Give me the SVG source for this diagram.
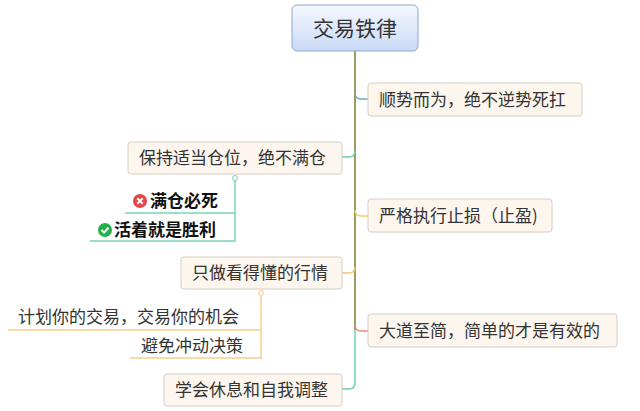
<svg xmlns="http://www.w3.org/2000/svg" width="640" height="411" viewBox="0 0 640 411">
<defs>
<linearGradient id="rg" x1="0" y1="0" x2="0" y2="1"><stop offset="0" stop-color="#f4f8ff"/><stop offset="1" stop-color="#c9daf6"/></linearGradient>
<style>
.n{fill:#fcf6ef;stroke:#d4cec6;stroke-width:1}
.t{font-family:"Noto Sans CJK SC",sans-serif;font-size:17px;fill:#333}
.s{font-family:"Noto Sans CJK SC",sans-serif;font-size:17px;font-weight:bold;fill:#111}
.c{fill:none;stroke-width:1.5}
</style>
</defs>
<rect width="640" height="411" fill="#fff"/>
<g id="connectors">
<path class="c" stroke="#7a7a30" d="M355 51V200"/>
<path class="c" stroke="#7a7a30" d="M355 200V330"/>
<path class="c" stroke="#6fcfae" d="M355 330V383q0 6 -6 6H342"/>
<path class="c" stroke="#6fa8c8" d="M355 93q0 6 6 6H368"/>
<path class="c" stroke="#6fcfae" d="M355 151q0 6 -6 6H342"/>
<path class="c" stroke="#f0d060" d="M355 210q0 6 6 6H368"/>
<path class="c" stroke="#f2c27a" d="M355 267q0 6 -6 6H342"/>
<path class="c" stroke="#e88a8a" d="M355 325q0 6 6 6H368"/>
<path class="c" stroke="#7dd3b8" d="M235 181V241H90M235 213H125"/>
<circle cx="235" cy="178" r="2.5" fill="#fff" stroke="#7dd3b8"/>
<path class="c" stroke="#f5cd8f" d="M261 296V358H130M261 330H8"/>
<circle cx="261" cy="293" r="2.5" fill="#fff" stroke="#f5cd8f"/>
</g>
<g id="root"><rect x="292" y="5" width="126" height="46" rx="5" fill="url(#rg)" stroke="#8ea8cc"/><text x="355" y="36" text-anchor="middle" class="t" style="font-size:21px">交易铁律</text></g>
<g id="n1"><rect class="n" x="368" y="83" width="214" height="33" rx="3"/><text class="t" x="379" y="106">顺势而为，绝不逆势死扛</text></g>
<g id="n2"><rect class="n" x="368" y="199" width="184" height="33" rx="3"/><text class="t" x="379" y="222">严格执行止损（止盈)</text></g>
<g id="n3"><rect class="n" x="368" y="314" width="249" height="33" rx="3"/><text class="t" x="379" y="337">大道至简，简单的才是有效的</text></g>
<g id="n4"><rect class="n" x="128" y="142" width="214" height="32" rx="3"/><text class="t" x="139" y="164">保持适当仓位，绝不满仓</text></g>
<g id="n5"><rect class="n" x="181" y="257" width="161" height="32" rx="3"/><text class="t" x="192" y="279">只做看得懂的行情</text></g>
<g id="n6"><rect class="n" x="164" y="374" width="178" height="32" rx="3"/><text class="t" x="175" y="396">学会休息和自我调整</text></g>
<g id="s1"><circle cx="140" cy="201" r="7" fill="#e04848"/><path d="M137.3 198.3l5.4 5.4M142.7 198.3l-5.4 5.4" stroke="#fff" stroke-width="2"/><text class="s" x="150" y="207">满仓必死</text></g>
<g id="s2"><circle cx="105" cy="230" r="7" fill="#22b04a"/><path d="M101.5 230l2.5 2.6 4.5-4.8" stroke="#fff" stroke-width="2" fill="none"/><text class="s" x="114" y="236">活着就是胜利</text></g>
<g id="s3"><text class="t" x="18" y="323">计划你的交易，交易你的机会</text></g>
<g id="s4"><text class="t" x="141" y="352">避免冲动决策</text></g>
</svg>
